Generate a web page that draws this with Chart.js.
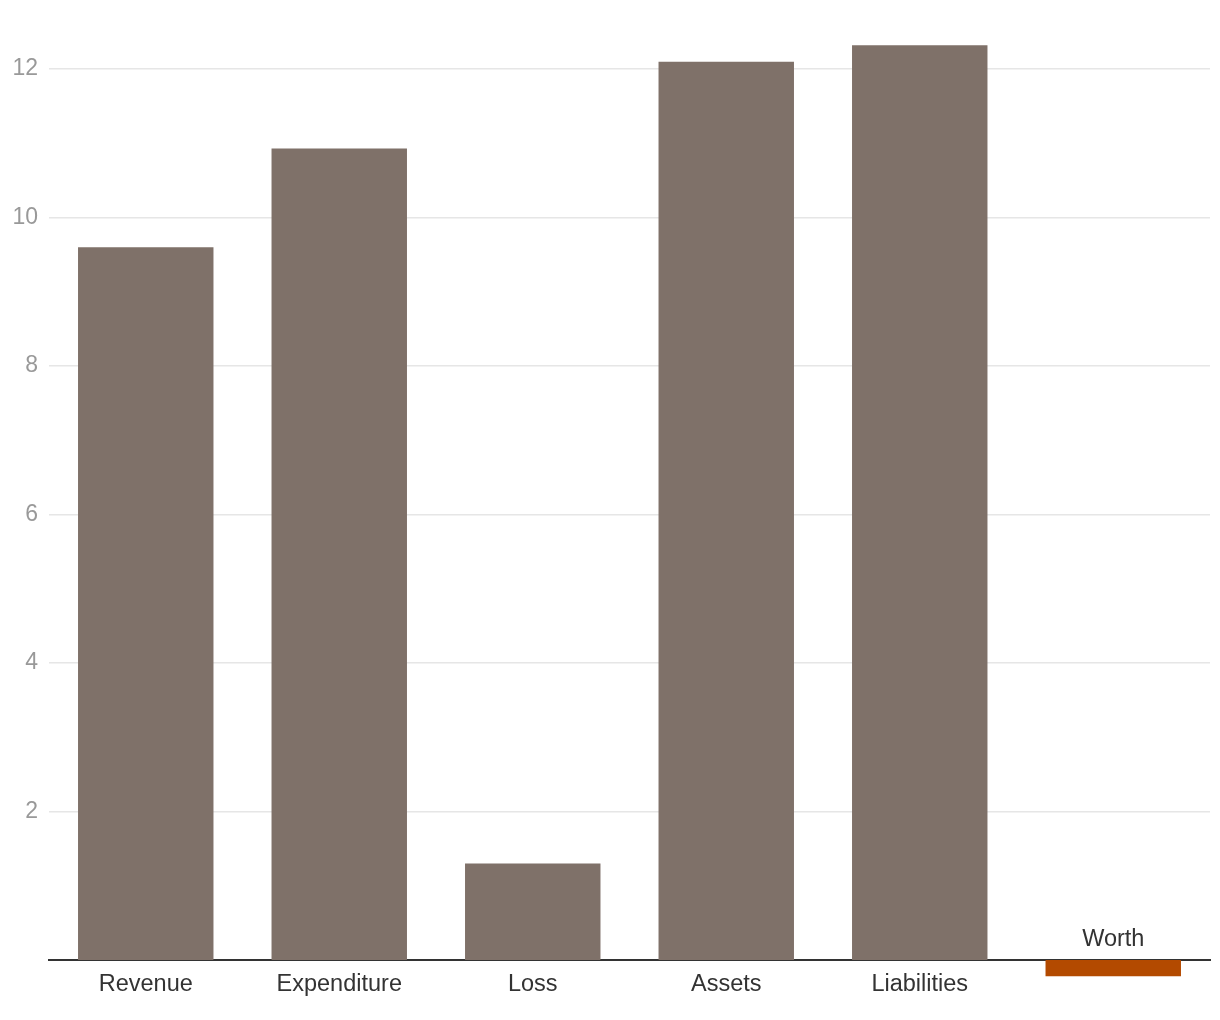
<!DOCTYPE html>
<html>
<head>
<meta charset="utf-8">
<script src="https://cdn.jsdelivr.net/npm/chart.js@4/dist/chart.umd.min.js"></script>
<style>
  html, body { margin: 0; padding: 0; background: #fff; }
  #wrap { width: 1220px; height: 1020px; position: relative; }
</style>
</head>
<body>
<div id="wrap"><canvas id="chart"></canvas></div>
<script>
// Chart data
const categories = ['Revenue', 'Expenditure', 'Loss', 'Assets', 'Liabilities', 'Worth'];
const values = [9.6, 10.93, 1.3, 12.1, 12.32, -0.22];
const yTicks = [2, 4, 6, 8, 10, 12];

const barColor = '#7f7169';
const negColor = '#b34a00';
const fontFamily = '"Liberation Sans", Arial, Helvetica, sans-serif';

// Labels of negative bars sit above the axis line
const negLabelPlugin = {
    id: 'negLabels',
    afterDatasetsDraw(chart) {
        const ctx = chart.ctx;
        const meta = chart.getDatasetMeta(0);
        const yScale = chart.scales.y;
        ctx.save();
        ctx.font = '23.5px ' + fontFamily;
        ctx.fillStyle = '#333';
        ctx.textAlign = 'center';
        ctx.textBaseline = 'bottom';
        values.forEach((v, i) => {
            if (v >= 0) return;
            const bar = meta.data[i];
            ctx.fillText(categories[i], bar.x, yScale.getPixelForValue(0) - 9);
        });
        ctx.restore();
    }
};

new Chart(document.getElementById('chart'), {
    type: 'bar',
    data: {
        labels: categories,
        datasets: [{
            data: values,
            backgroundColor: values.map(v => v < 0 ? negColor : barColor),
            borderWidth: 0,
            barPercentage: 0.7,
            categoryPercentage: 1,
            clip: false
        }]
    },
    options: {
        responsive: true,
        maintainAspectRatio: false,
        animation: false,
        layout: { padding: { top: 32, right: 10, left: 0, bottom: 0 } },
        plugins: {
            legend: { display: false },
            tooltip: { enabled: false }
        },
        scales: {
            x: {
                grid: { display: false, drawTicks: false },
                border: { display: true, color: '#333', width: 2 },
                ticks: {
                    color: '#333',
                    padding: 10,
                    maxRotation: 0,
                    font: { family: fontFamily, size: 23.5 },
                    callback: (val, i) => values[i] < 0 ? '' : categories[i]
                },
                afterFit: (scale) => { scale.height = 60; }
            },
            y: {
                min: 0,
                max: 12.5,
                afterBuildTicks: (scale) => { scale.ticks = yTicks.map(v => ({ value: v })); },
                grid: { color: '#e6e6e6', lineWidth: 1.5, drawTicks: false },
                border: { display: false },
                ticks: {
                    color: '#999',
                    padding: 11,
                    font: { family: fontFamily, size: 23 }
                },
                afterFit: (scale) => { scale.width = 49; }
            }
        }
    },
    plugins: [negLabelPlugin]
});
</script>
</body>
</html>
